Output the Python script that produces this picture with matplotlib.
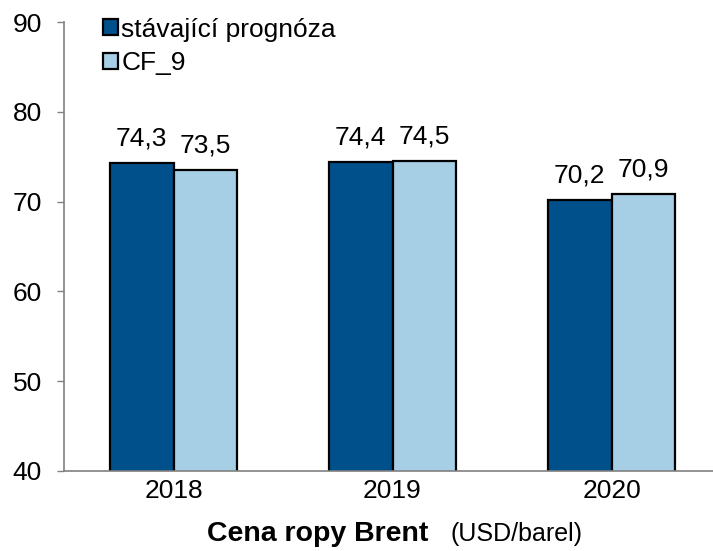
import matplotlib
matplotlib.use("Agg")
import matplotlib.pyplot as plt
import numpy as np

categories = ["2018", "2019", "2020"]
series_names = ["stávající prognóza", "CF_9"]
current = [74.3, 74.4, 70.2]
cf9 = [73.5, 74.5, 70.9]
colors = ["#00508C", "#A6CEE4"]

plt.rcParams['font.family'] = ['Liberation Sans', 'DejaVu Sans']

W, H = 713, 551
fig = plt.figure(figsize=(W/100, H/100), dpi=100)
ax = fig.add_axes([64/W, (H-471)/H, 657/W, 449/H])

x = np.arange(len(categories))
w = 0.292
b1 = ax.bar(x - w/2, current, w, color=colors[0], edgecolor="black", linewidth=1.6, label=series_names[0])
b2 = ax.bar(x + w/2, cf9, w, color=colors[1], edgecolor="black", linewidth=1.6, label=series_names[1])

for bars, vals in ((b1, current), (b2, cf9)):
    for r, v in zip(bars, vals):
        ax.annotate(f"{v:.1f}".replace(".", ","), (r.get_x() + r.get_width()/2, v),
                    xytext=(0, 9), textcoords="offset points", ha="center", va="bottom", fontsize=19)

ax.set_ylim(40, 90)
ax.set_xlim(-0.5, 2.5)
ax.set_yticks(range(40, 91, 10))
ax.set_xticks(x)
ax.set_xticklabels(categories)
ax.tick_params(axis='y', labelsize=19, length=5, width=1, color="#808080", direction="out", pad=11)
ax.tick_params(axis='x', labelsize=19, length=0, pad=6)
for s in ["top", "right"]:
    ax.spines[s].set_visible(False)
for s in ["left", "bottom"]:
    ax.spines[s].set_color("#808080")
    ax.spines[s].set_linewidth(1.2)

base_y = (H - 541) / H
fig.text(207/W, base_y, "Cena ropy Brent", fontsize=20.5, fontweight="bold", ha="left", va="baseline")
fig.text(450/W, base_y, "(USD/barel)", fontsize=18, ha="left", va="baseline")

leg = ax.legend(loc="upper left", bbox_to_anchor=(0.044, 1.033), frameon=False, fontsize=19,
                handlelength=0.55, handleheight=0.55, handletextpad=0.12, labelspacing=0.36,
                borderaxespad=0.0)
for h in leg.legend_handles:
    h.set_linewidth(1.6)

fig.savefig("out.png", dpi=100)
